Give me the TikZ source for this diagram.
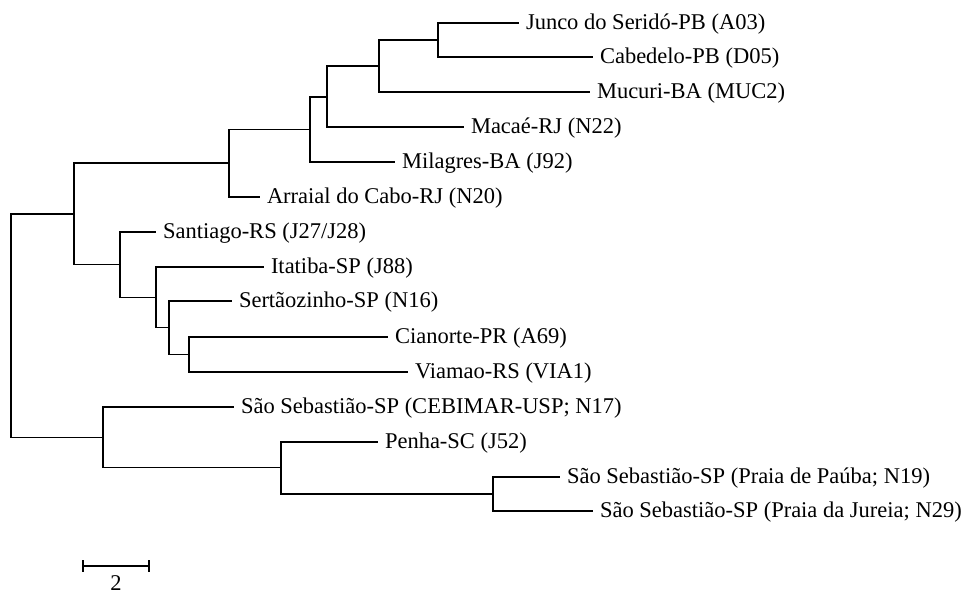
\documentclass[tikz,border=0pt]{standalone}
\usepackage{fontspec}
\setmainfont{Liberation Serif}
\begin{document}
\begin{tikzpicture}[x=1pt,y=-1pt,
  branch/.style={draw=black, line width=1.25pt},
  lab/.style={anchor=west, inner xsep=0pt, inner ysep=0pt, outer xsep=7pt, outer ysep=0pt,
    text height=16pt, text depth=2.6pt, font=\fontsize{22.5}{27}\selectfont}]
\useasboundingbox (0,0) rectangle (967,593);
% internal nodes
\coordinate (R) at (11,325.5);
\coordinate (A) at (74,214);
\coordinate (B) at (229,163);
\coordinate (C) at (310,129.5);
\coordinate (D) at (327,97);
\coordinate (E) at (379,66);
\coordinate (F) at (438,40);
\coordinate (G) at (120,264.5);
\coordinate (H) at (156,297.5);
\coordinate (I) at (169,327.5);
\coordinate (J) at (189,354.5);
\coordinate (K) at (103,437.5);
\coordinate (L) at (281,467.5);
\coordinate (M) at (493,494);
% leaves
\node[lab] (junco) at (519,23) {Junco do Seridó-PB (A03)};
\node[lab] (cabedelo) at (593,57) {Cabedelo-PB (D05)};
\node[lab] (mucuri) at (590,92) {Mucuri-BA (MUC2)};
\node[lab] (macae) at (464,127) {Macaé-RJ (N22)};
\node[lab] (milagres) at (395,162) {Milagres-BA (J92)};
\node[lab] (arraial) at (260,197) {Arraial do Cabo-RJ (N20)};
\node[lab] (santiago) at (156,232) {Santiago-RS (J27/J28)};
\node[lab] (itatiba) at (264,267) {Itatiba-SP (J88)};
\node[lab] (sertao) at (232,301) {Sertãozinho-SP (N16)};
\node[lab] (cianorte) at (388,337) {Cianorte-PR (A69)};
\node[lab] (viamao) at (408,372) {Viamao-RS (VIA1)};
\node[lab] (cebimar) at (234,407) {São Sebastião-SP (CEBIMAR-USP; N17)};
\node[lab] (penha) at (378,442) {Penha-SC (J52)};
\node[lab] (pauba) at (560,477) {São Sebastião-SP (Praia de Paúba; N19)};
\node[lab] (jureia) at (593,511) {São Sebastião-SP (Praia da Jureia; N29)};
% branches
\path[branch] (R) |- (A);
\path[branch] (R) |- (K);
\path[branch] (A) |- (B);
\path[branch] (A) |- (G);
\path[branch] (B) |- (C);
\path[branch] (B) |- (arraial.west);
\path[branch] (C) |- (D);
\path[branch] (C) |- (milagres.west);
\path[branch] (D) |- (E);
\path[branch] (D) |- (macae.west);
\path[branch] (E) |- (F);
\path[branch] (E) |- (mucuri.west);
\path[branch] (F) |- (junco.west);
\path[branch] (F) |- (cabedelo.west);
\path[branch] (G) |- (santiago.west);
\path[branch] (G) |- (H);
\path[branch] (H) |- (itatiba.west);
\path[branch] (H) |- (I);
\path[branch] (I) |- (sertao.west);
\path[branch] (I) |- (J);
\path[branch] (J) |- (cianorte.west);
\path[branch] (J) |- (viamao.west);
\path[branch] (K) |- (cebimar.west);
\path[branch] (K) |- (L);
\path[branch] (L) |- (penha.west);
\path[branch] (L) |- (M);
\path[branch] (M) |- (pauba.west);
\path[branch] (M) |- (jureia.west);
% scale bar
\coordinate (s1) at (83,566);
\coordinate (s2) at (149,566);
\path[branch] (s1) -- (s2);
\path[branch] ([yshift=6pt]s1) -- ([yshift=-6pt]s1);
\path[branch] ([yshift=6pt]s2) -- ([yshift=-6pt]s2);
\node[anchor=base, inner sep=0pt, font=\fontsize{22.5}{27}\selectfont] (scalelab) at (116,590) {2};
\end{tikzpicture}
\end{document}
